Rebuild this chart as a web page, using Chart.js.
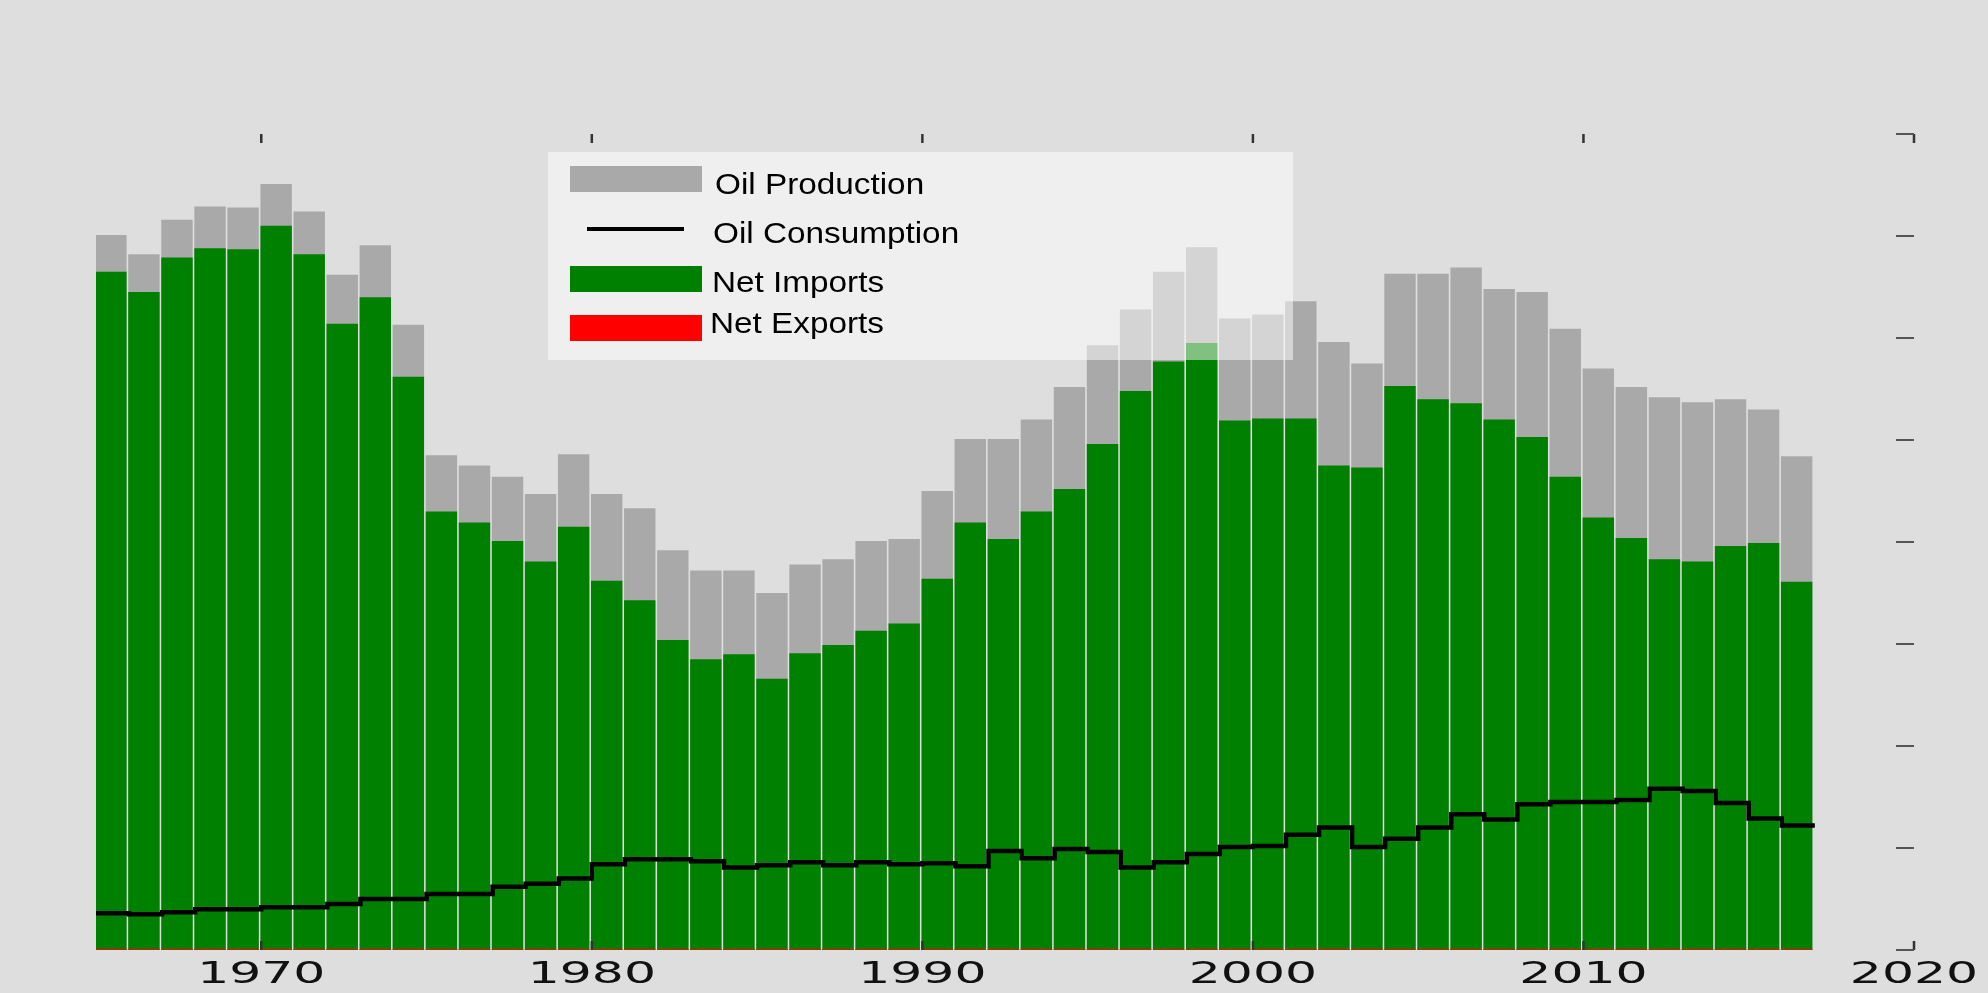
<!DOCTYPE html>
<html>
<head>
<meta charset="utf-8">
<title>Oil production, consumption and net imports</title>
<script src="https://cdn.jsdelivr.net/npm/chart.js@4.4.1/dist/chart.umd.min.js"></script>
<style>
  html, body { margin: 0; padding: 0; background: #dedede; overflow: hidden; }
  canvas { display: block; }
</style>
</head>
<body>
<canvas id="chart" width="1988" height="993"></canvas>
<script>
// one bar per year, bars start at the year and run to the next one
const years = [1965, 1966, 1967, 1968, 1969, 1970, 1971, 1972, 1973, 1974,
    1975, 1976, 1977, 1978, 1979, 1980, 1981, 1982, 1983, 1984,
    1985, 1986, 1987, 1988, 1989, 1990, 1991, 1992, 1993, 1994,
    1995, 1996, 1997, 1998, 1999, 2000, 2001, 2002, 2003, 2004,
    2005, 2006, 2007, 2008, 2009, 2010, 2011, 2012, 2013, 2014,
    2015, 2016];

// top of the grey bars
const oilProduction = [7.01, 6.82, 7.16, 7.29, 7.28, 7.51, 7.24, 6.62, 6.91, 6.13,
    4.85, 4.75, 4.64, 4.47, 4.86, 4.47, 4.33, 3.92, 3.72, 3.72,
    3.50, 3.78, 3.83, 4.01, 4.03, 4.50, 5.01, 5.01, 5.20, 5.52,
    5.93, 6.28, 6.65, 6.89, 6.19, 6.23, 6.36, 5.96, 5.75, 6.63,
    6.63, 6.69, 6.48, 6.45, 6.09, 5.70, 5.52, 5.42, 5.37, 5.40,
    5.30, 4.84];

// top of the green bars
const netImports = [6.65, 6.45, 6.79, 6.88, 6.87, 7.10, 6.82, 6.14, 6.40, 5.62,
    4.30, 4.19, 4.01, 3.81, 4.15, 3.62, 3.43, 3.04, 2.85, 2.90,
    2.66, 2.91, 2.99, 3.13, 3.20, 3.64, 4.19, 4.03, 4.30, 4.52,
    4.96, 5.48, 5.77, 5.95, 5.19, 5.21, 5.21, 4.75, 4.73, 5.53,
    5.40, 5.36, 5.20, 5.03, 4.64, 4.24, 4.04, 3.83, 3.81, 3.96,
    3.99, 3.61];

const netExports = [0, 0, 0, 0, 0, 0, 0, 0, 0, 0, 0, 0, 0, 0, 0, 0, 0, 0, 0, 0,
    0, 0, 0, 0, 0, 0, 0, 0, 0, 0, 0, 0, 0, 0, 0, 0, 0, 0, 0, 0,
    0, 0, 0, 0, 0, 0, 0, 0, 0, 0, 0, 0];

const oilConsumption = [0.36, 0.35, 0.37, 0.40, 0.40, 0.42, 0.42, 0.45, 0.50, 0.50,
    0.55, 0.55, 0.62, 0.65, 0.70, 0.84, 0.89, 0.89, 0.87, 0.81,
    0.83, 0.86, 0.83, 0.86, 0.84, 0.85, 0.82, 0.97, 0.90, 0.99,
    0.96, 0.81, 0.86, 0.94, 1.01, 1.02, 1.13, 1.20, 1.01, 1.09,
    1.20, 1.33, 1.28, 1.43, 1.45, 1.45, 1.47, 1.58, 1.56, 1.44,
    1.29, 1.22];

const xTicks = [1970, 1980, 1990, 2000, 2010, 2020];
const yTicks = [0, 1, 2, 3, 4, 5, 6, 7, 8];

const legendItems = [
    { label: "Oil Production", kind: "box", color: "#a9a9a9" },
    { label: "Oil Consumption", kind: "line", color: "#000000" },
    { label: "Net Imports", kind: "box", color: "#008000" },
    { label: "Net Exports", kind: "box", color: "#ff0000" }
];

function barPoints(values) {
    return years.map((yr, i) => ({ x: yr + 0.45, y: values[i] }));
}

// step line: each year's value holds until the next year
const consumptionPoints = years.map((yr, i) => ({ x: yr, y: oilConsumption[i] }));
consumptionPoints.push({ x: years[years.length - 1] + 1, y: oilConsumption[oilConsumption.length - 1] });

function stroke(ctx, x1, y1, x2, y2) {
    ctx.beginPath();
    ctx.moveTo(x1, y1);
    ctx.lineTo(x2, y2);
    ctx.stroke();
}

// text squeezed/stretched sideways like the original image
function wideText(ctx, text, x, y, sx) {
    ctx.save();
    ctx.translate(x, y);
    ctx.scale(sx, 1);
    ctx.fillText(text, 0, 0);
    ctx.restore();
}

// ticks, stretched tick labels and the see-through legend
const decorations = {
    id: "decorations",
    afterDatasetsDraw(chart) {
        const ctx = chart.ctx;
        const xs = chart.scales.x;
        const ys = chart.scales.y;
        const area = chart.chartArea;
        ctx.save();

        ctx.strokeStyle = "#333";
        ctx.lineWidth = 2.5;
        xTicks.forEach(v => {
            const px = xs.getPixelForValue(v);
            stroke(ctx, px, area.top, px, area.top + 9);
            stroke(ctx, px, area.bottom, px, area.bottom - 9);
        });
        ctx.strokeStyle = "#555";
        ctx.lineWidth = 2;
        yTicks.forEach(v => {
            const py = ys.getPixelForValue(v);
            stroke(ctx, area.right - 18, py, area.right, py);
        });

        ctx.fillStyle = "#111";
        ctx.font = '30px "DejaVu Sans"';
        ctx.textAlign = "center";
        ctx.textBaseline = "alphabetic";
        xTicks.forEach(v => {
            wideText(ctx, String(v), xs.getPixelForValue(v), area.bottom + 33, 1.68);
        });

        // legend
        ctx.fillStyle = "rgba(255,255,255,0.5)";
        ctx.fillRect(548, 152, 745, 208);
        const rowY = [179, 229, 279, 328];
        const textX = [715, 713, 712, 710];
        const baseY = [194, 243, 292, 333];
        ctx.font = '30px "Liberation Sans", Arial, sans-serif';
        ctx.textAlign = "left";
        legendItems.forEach((item, i) => {
            if (item.kind === "box") {
                ctx.fillStyle = item.color;
                ctx.fillRect(570, rowY[i] - 13, 132, 26);
            } else {
                ctx.strokeStyle = item.color;
                ctx.lineWidth = 4;
                stroke(ctx, 587, rowY[i], 684, rowY[i]);
            }
            ctx.fillStyle = "#000";
            wideText(ctx, item.label, textX[i], baseY[i], 1.11);
        });
        ctx.restore();
    }
};

new Chart(document.getElementById("chart"), {
    type: "bar",
    data: {
        datasets: [
            {
                type: "line",
                label: "Oil Consumption",
                data: consumptionPoints,
                borderColor: "#000",
                borderWidth: 4.5,
                pointRadius: 0,
                stepped: true,
                fill: false
            },
            {
                label: "Net Exports",
                data: barPoints(netExports),
                backgroundColor: "#ff0000",
                minBarLength: 1
            },
            {
                label: "Net Imports",
                data: barPoints(netImports),
                backgroundColor: "#008000"
            },
            {
                label: "Oil Production",
                data: barPoints(oilProduction),
                backgroundColor: "#a9a9a9"
            }
        ]
    },
    options: {
        responsive: false,
        animation: false,
        layout: { padding: { left: 96, right: 74, top: 134, bottom: 43 } },
        datasets: {
            bar: { grouped: false, barPercentage: 0.95, categoryPercentage: 1.0, borderWidth: 0 }
        },
        scales: {
            x: {
                type: "linear",
                min: 1965,
                max: 2020,
                offset: false,
                display: false,
                afterBuildTicks: s => { s.ticks = xTicks.map(v => ({ value: v })); }
            },
            y: {
                min: 0,
                max: 8,
                display: false
            }
        },
        plugins: {
            legend: { display: false },
            tooltip: { enabled: false }
        }
    },
    plugins: [decorations]
});
</script>
</body>
</html>
